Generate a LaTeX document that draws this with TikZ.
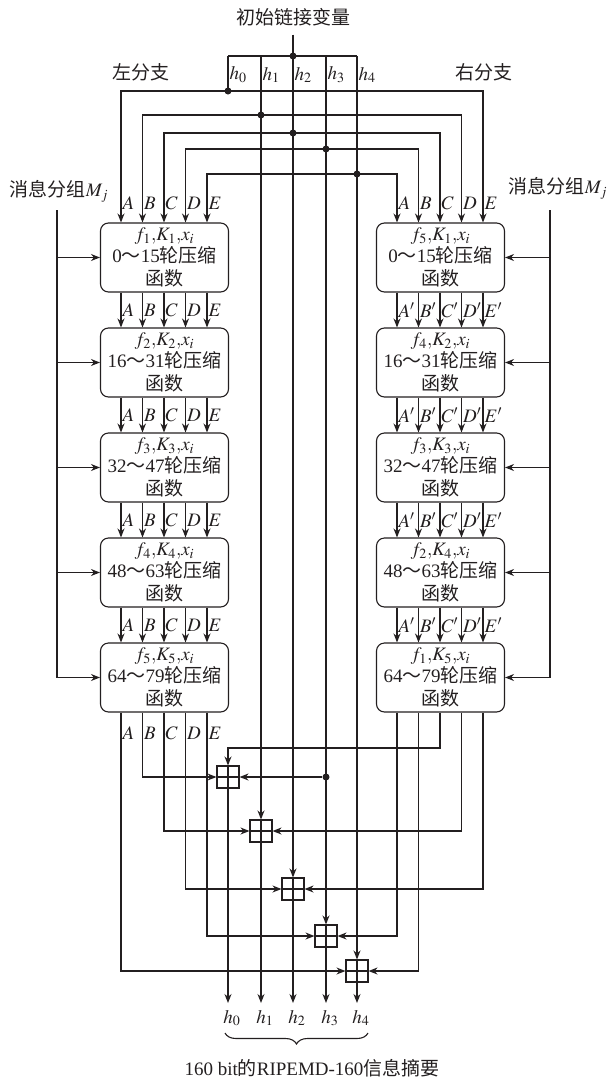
\documentclass[tikz,border=0pt]{standalone}
\usepackage{mathptmx}
\usepackage{fontspec}
\setmainfont{Liberation Serif}
\newfontfamily\cjk{Noto Sans CJK SC}
\usetikzlibrary{arrows.meta,calc,decorations.pathreplacing}
\definecolor{Cline}{HTML}{231F20}

\begin{document}
\begin{tikzpicture}[x=1pt,y=-1pt,line width=1.1pt,color=Cline,
    font=\fontsize{19}{20}\selectfont,
    arr/.style={-{Stealth[length=9pt,width=7pt]}},
    roundbox/.style={draw,rounded corners=8pt,minimum width=128pt,
      minimum height=69pt,inner sep=0pt,align=center,
      font=\fontsize{19}{21}\selectfont},
    adder/.style={draw,minimum size=22pt,inner sep=0pt,
      path picture={\draw (path picture bounding box.north) -- (path picture bounding box.south)
        (path picture bounding box.west) -- (path picture bounding box.east);}},
    joint/.style={circle,fill=Cline,inner sep=0pt,minimum size=7pt},
    lab/.style={anchor=west,inner sep=1pt}]
  \useasboundingbox (0,0) rectangle (608,1079);

  % columns
  \foreach \j in {0,...,4}{
    \coordinate (cL\j) at (121+21.5*\j,0);
    \coordinate (cR\j) at (397+21.5*\j,0);}
  \foreach \j/\x/\y in {0/228/91,1/261/115,2/293/133,3/326/149,4/357/174}{
    \coordinate (t\j) at (\x,56);
    \coordinate (d\j) at (\x,\y);}

  % top
  \node (title) at (293,17) {\cjk 初始链接变量};
  \node (lbr) at (141,72) {\cjk 左分支};
  \node (rbr) at (484,72) {\cjk 右分支};
  \draw ([yshift=-5pt]title.south) -- (t2);
  \draw (t0) -- (t4);
  \draw (t0) -- (d0);
  \node[joint] (j2) at (t2) {};
  \foreach \j in {0,...,4}
    \node[lab] (ht\j) at ($(t\j)+(0,19)$) {$h_{\j}$};

  % boxes
  \foreach \k/\rf/\rlo/\rhi in {1/5/0/15,2/4/16/31,3/3/32/47,4/2/48/63,5/1/64/79}{
    \node[roundbox] (L\k) at (164.5,152.5+105*\k)
      {$f_{\k}{,}K_{\k}{,}x_i$\\[1pt]\rlo{\cjk ～}\rhi{\cjk 轮压缩}\\[2pt]{\cjk 函数}};
    \node[roundbox] (R\k) at (440.5,152.5+105*\k)
      {$f_{\rf}{,}K_{\k}{,}x_i$\\[1pt]\rlo{\cjk ～}\rhi{\cjk 轮压缩}\\[2pt]{\cjk 函数}};}

  % chaining values into both branches
  \foreach \j/\m/\t in {0/4/A,1/3/B,2/2/C,3/1/D,4/0/E}{
    \draw[arr] (d\j) -| (cL\j |- L1.north);
    \draw[arr] (d\j) -| (cR\m |- R1.north);
    \node[joint] (dj\j) at (d\j) {};
    \node[lab] (tl\j) at ($(cL\j |- L1.north)+(0,-19)$) {$\t$};
    \node[lab] (tr\j) at ($(cR\j |- R1.north)+(0,-19)$) {$\t$};}

  \foreach \k/\n in {1/2,2/3,3/4,4/5}{
    \foreach \j/\t in {0/A,1/B,2/C,3/D,4/E}{
      \draw[arr] (cL\j |- L\k.south) -- node[lab] {$\t$} (cL\j |- L\n.north);
      \draw[arr] (cR\j |- R\k.south) -- node[lab] {$\t'$} (cR\j |- R\n.north);}}

  % message blocks
  \coordinate (mL) at (57,210);
  \coordinate (mR) at (550,210);
  \node (msgL) at (59,191) {{\cjk 消息分组}$M_j$};
  \node (msgR) at (558,188) {{\cjk 消息分组}$M_j$};
  \draw (mL) -- (mL |- L5);
  \draw (mR) -- (mR |- R5);
  \foreach \k in {1,...,5}{
    \draw[arr] (mL |- L\k) -- (L\k.west);
    \draw[arr] (mR |- R\k) -- (R\k.east);}

  % adders
  \foreach \j/\x/\y in {0/228/777,1/261/831,2/293/889,3/326/936,4/357/971}{
    \node[adder] (a\j) at (\x,\y) {};
    \coordinate (o\j) at (\x,1003);
    \draw[arr] (a\j.south) -- (o\j);
    \node (hb\j) at ($(o\j)+(4,15)$) {$h_{\j}$};}
  \foreach \j in {1,...,4}
    \draw[arr] (t\j) -- (a\j.north);

  \foreach \j/\t in {0/A,1/B,2/C,3/D,4/E}
    \node[lab] (bl\j) at ($(cL\j |- L5.south)+(0,21)$) {$\t$};
  \foreach \j/\a in {0/4,1/0,2/1,3/2,4/3}
    \draw[arr] (cL\j |- L5.south) |- (a\a.west);
  \foreach \j/\a in {0/3,1/4,3/1,4/2}
    \draw[arr] (cR\j |- R5.south) |- (a\a.east);
  \coordinate (e0) at (228,748);
  \draw[arr] (cR2 |- R5.south) |- (e0) -- (a0.north);
  \node[joint] (k0) at (a3 |- a0) {};
  \draw[arr] (k0) -- (a0.east);

  % digest
  \coordinate (br0) at (225,1033);
  \coordinate (br1) at (368,1033);
  \draw[decorate,decoration={brace,mirror,amplitude=11pt}] (br0) -- (br1);
  \node (digest) at (312,1068) {160 bit{\cjk 的}RIPEMD-160{\cjk 信息摘要}};
\end{tikzpicture}
\end{document}
